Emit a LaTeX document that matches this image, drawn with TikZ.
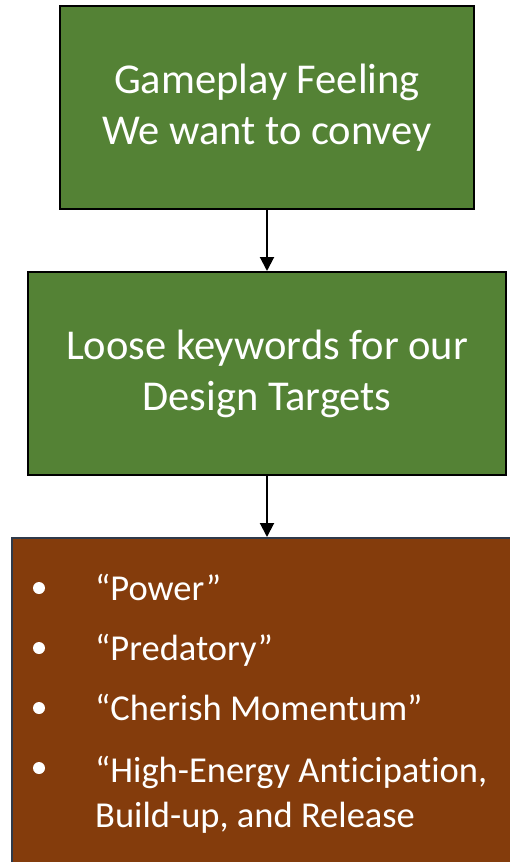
\documentclass[tikz,border=0pt]{standalone}
\usepackage{fontspec}
\setmainfont[Ligatures={NoCommon}]{Carlito}
\usepackage{tikz}
\usetikzlibrary{arrows.meta,positioning,calc}
\definecolor{flowgreen}{RGB}{84,130,53}
\definecolor{flowbrown}{RGB}{132,60,12}
\definecolor{flowslate}{RGB}{47,58,74}
\tikzset{
  stage box/.style={
    draw=black,
    fill=flowgreen,
    line width=2pt,
    minimum height=203pt,
    align=center,
    text=white,
    font=\fontsize{42.5}{51}\selectfont,
  },
  target box/.style={
    draw=flowslate,
    fill=flowbrown,
    line width=2pt,
    minimum width=510pt,
    minimum height=350pt,
  },
  keyword/.style={
    text=white,
    inner sep=0pt,
    align=left,
    font=\fontsize{36.5}{45}\selectfont,
  },
  bullet dot/.style={
    circle,
    fill=white,
    inner sep=0pt,
    minimum size=12pt,
  },
  flow arrow/.style={
    -{Triangle[length=14pt,width=14pt]},
    line width=2pt,
    draw=black,
  },
}

\begin{document}
\begin{tikzpicture}[x=1pt,y=1pt]
  \useasboundingbox (0,0) rectangle (510,-862);
  \clip (0,0) rectangle (510,-862);
  \node[stage box, minimum width=414pt] (feel) at (267,-107.5)
    {Gameplay Feeling\\We want to convey};
  \node[stage box, minimum width=478pt, below=61pt of feel] (keys)
    {Loose keywords for our\\Design Targets};
  \node[target box, below=61pt of keys] (targets) {};
  \draw[flow arrow] (feel) -- (keys);
  \draw[flow arrow] (keys) -- (targets);
  % keyword list
  \foreach \word [count=\i] in {{“Power”}, {“Predatory”}, {“Cherish Momentum”}} {
    \node[keyword, anchor=base west] (kw\i) at (95,-600-60*\i+60) {\word};
    \node[bullet dot] (dot\i) at (39,-588-60*\i+60) {};
  }
  % last item wraps; base is the second line
  \node[keyword, anchor=base west] (kw4) at (95,-827)
    {“High-Energy Anticipation,\\Build-up, and Release};
  \node[bullet dot] (dot4) at (39,-768) {};
\end{tikzpicture}
\end{document}
